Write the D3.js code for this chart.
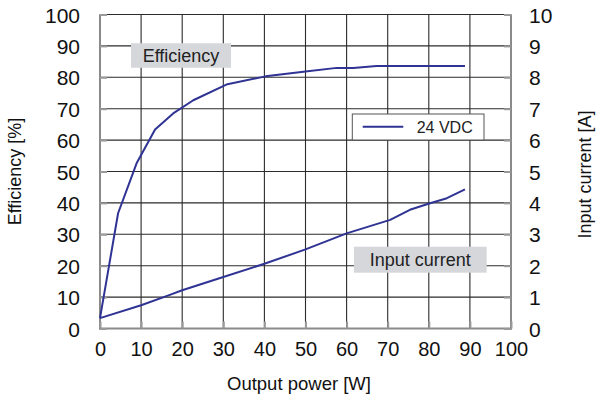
<!DOCTYPE html>
<html>
<head>
<meta charset="utf-8">
<script src="https://cdn.jsdelivr.net/npm/d3@7"></script>
<style>
  html, body { margin: 0; padding: 0; background: #fff; }
  svg { display: block; font-family: "Liberation Sans", Arial, sans-serif; }
</style>
</head>
<body>
<svg id="chart" width="596" height="401"></svg>
<script>
// Output power axis ticks and the two measured curves (24 VDC input)
const powerTicks = [0, 10, 20, 30, 40, 50, 60, 70, 80, 90, 100];
const efficiencyTicks = [0, 10, 20, 30, 40, 50, 60, 70, 80, 90, 100];
const currentTicks = [0, 1, 2, 3, 4, 5, 6, 7, 8, 9, 10];

const effPower = [0, 4.4, 8.9, 13.4, 17.8, 22.7, 31, 40.3, 49.5, 57.6, 61.6, 67.3, 88.8];
const effValue = [3.3, 36.7, 52.6, 63.4, 68.5, 72.7, 77.8, 80.3, 81.8, 83, 83, 83.6, 83.6];

const curPower = [0, 10, 17, 20, 30, 40, 50, 60, 70.6, 75.4, 80.3, 84.4, 88.8];
const curValue = [0.33, 0.74, 1.07, 1.22, 1.64, 2.06, 2.52, 3.03, 3.46, 3.78, 3.99, 4.15, 4.43];

const seriesName = "24 VDC";
const lineColor = "#2f3393";

const svg = d3.select("#chart");
const plotL = 100, plotR = 511, plotT = 14.5, plotB = 328.5;

const x = d3.scaleLinear().domain([0, 100]).range([plotL, plotR]);
const yEff = d3.scaleLinear().domain([0, 100]).range([plotB, plotT]);
const yCur = d3.scaleLinear().domain([0, 10]).range([plotB, plotT]);

// grid
const grid = svg.append("g");
grid.selectAll("line.v").data(powerTicks).join("line")
  .attr("x1", d => x(d)).attr("x2", d => x(d))
  .attr("y1", plotT).attr("y2", plotB)
  .attr("stroke", "#2b2b2b").attr("stroke-width", 1.1);
grid.selectAll("line.h").data(efficiencyTicks).join("line")
  .attr("x1", plotL).attr("x2", plotR)
  .attr("y1", d => yEff(d)).attr("y2", d => yEff(d))
  .attr("stroke", "#2b2b2b").attr("stroke-width", 1.1);

// frame (left, right, bottom drawn in grey)
svg.append("line").attr("x1", plotL).attr("x2", plotL).attr("y1", plotT).attr("y2", plotB + 1)
  .attr("stroke", "#8a8a8a").attr("stroke-width", 2);
svg.append("line").attr("x1", plotR).attr("x2", plotR).attr("y1", plotT).attr("y2", plotB + 1)
  .attr("stroke", "#8a8a8a").attr("stroke-width", 2);
svg.append("line").attr("x1", plotL - 1).attr("x2", plotR + 1).attr("y1", plotB).attr("y2", plotB)
  .attr("stroke", "#8a8a8a").attr("stroke-width", 2);

// axes with inward tick stubs
const tickStyle = g => {
  g.select(".domain").remove();
  g.selectAll(".tick line").attr("stroke", "#9a9a9a").attr("stroke-width", 2);
  g.selectAll(".tick text").attr("fill", "#111").attr("font-size", 20);
};

svg.append("g").attr("transform", `translate(0,${plotB})`)
  .call(d3.axisBottom(x).tickValues(powerTicks).tickSize(-7).tickPadding(27).tickFormat(d3.format("d")))
  .call(tickStyle)
  .call(g => g.selectAll(".tick text").attr("dy", "0"));

svg.append("g").attr("transform", `translate(${plotL},0)`)
  .call(d3.axisLeft(yEff).tickValues(efficiencyTicks).tickSize(-7).tickPadding(20).tickFormat(d3.format("d")))
  .call(tickStyle)
  .call(g => g.selectAll(".tick text").attr("font-size", 21).attr("dy", "0.36em"));

svg.append("g").attr("transform", `translate(${plotR},0)`)
  .call(d3.axisRight(yCur).tickValues(currentTicks).tickSize(-7).tickPadding(18).tickFormat(d3.format("d")))
  .call(tickStyle)
  .call(g => g.selectAll(".tick text").attr("font-size", 21).attr("dy", "0.36em"));

// axis titles
svg.append("text").attr("x", 299).attr("y", 389.5).attr("text-anchor", "middle")
  .attr("font-size", 18.5).attr("fill", "#111").text("Output power [W]");
svg.append("text").attr("transform", `translate(21,${(plotT + plotB) / 2}) rotate(-90)`)
  .attr("text-anchor", "middle").attr("font-size", 18).attr("fill", "#111").text("Efficiency [%]");
svg.append("text").attr("transform", `translate(591,${(plotT + plotB) / 2 + 3}) rotate(-90)`)
  .attr("text-anchor", "middle").attr("font-size", 18).attr("fill", "#111").text("Input current [A]");

// curve labels on grey plates
const plate = (cx, cy, w, h, label) => {
  svg.append("rect").attr("x", cx - w / 2).attr("y", cy - h / 2).attr("width", w).attr("height", h)
    .attr("fill", "#d5d7db");
  svg.append("text").attr("x", cx).attr("y", cy + 6).attr("text-anchor", "middle")
    .attr("font-size", 18).attr("fill", "#222").text(label);
};
plate(181, 55.5, 100, 24.5, "Efficiency");
plate(420.3, 259.7, 132.7, 26, "Input current");

// curves
const effLine = d3.line().x(d => x(d[0])).y(d => yEff(d[1]));
const curLine = d3.line().x(d => x(d[0])).y(d => yCur(d[1]));
svg.append("path").datum(d3.zip(effPower, effValue)).attr("d", effLine)
  .attr("fill", "none").attr("stroke", lineColor).attr("stroke-width", 2).attr("stroke-linejoin", "round");
svg.append("path").datum(d3.zip(curPower, curValue)).attr("d", curLine)
  .attr("fill", "none").attr("stroke", lineColor).attr("stroke-width", 2).attr("stroke-linejoin", "round");

// legend
const lg = svg.append("g");
lg.append("rect").attr("x", 352.3).attr("y", 114).attr("width", 131.7).attr("height", 26)
  .attr("fill", "#fff").attr("stroke", "#555").attr("stroke-width", 1);
lg.append("line").attr("x1", 362.7).attr("x2", 403.3).attr("y1", 126.7).attr("y2", 126.7)
  .attr("stroke", lineColor).attr("stroke-width", 2);
lg.append("text").attr("x", 416.7).attr("y", 132.5).attr("font-size", 16).attr("fill", "#222").text(seriesName);
</script>
</body>
</html>
